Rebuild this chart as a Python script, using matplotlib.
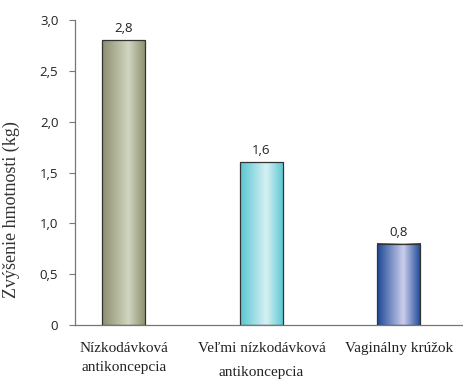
import numpy as np
import matplotlib.pyplot as plt
from matplotlib.colors import LinearSegmentedColormap

# Weight gain per contraception type
categories = ['Nízkodávková\nantikoncepcia', 'Veľmi nízkodávková\nantikoncepcia', 'Vaginálny krúžok']
values = [2.8, 1.6, 0.8]
value_labels = ['2,8', '1,6', '0,8']
ytick_vals = [0, 0.5, 1.0, 1.5, 2.0, 2.5, 3.0]
ytick_labels = ['0', '0,5', '1,0', '1,5', '2,0', '2,5', '3,0']

# (edge, highlight) colours for the cylinder-like shading
shades = [('#8d8e6e', '#cfd5bf'), ('#58c6d3', '#d6f0f2'), ('#1d4797', '#c9cdeb')]

fig = plt.figure(figsize=(4.64, 3.79), dpi=100)
ax = fig.add_axes([0.1616, 0.1425, 0.834, 0.8045])

x = np.arange(len(values))
width = 0.313
grad = np.concatenate([np.linspace(0, 1, 60), np.linspace(1, 0, 40)])[None, :]

for xi, v, (dark, light), lab in zip(x, values, shades, value_labels):
    cmap = LinearSegmentedColormap.from_list('shade', [dark, light])
    ax.imshow(grad, cmap=cmap, extent=(xi - width / 2, xi + width / 2, 0, v),
              aspect='auto', zorder=2, interpolation='bicubic')
    ax.bar(xi, v, width=width, facecolor='none', edgecolor='#333333', linewidth=0.9, zorder=3)
    ax.text(xi, v + 0.05, lab, ha='center', va='bottom', fontsize=9.5,
            family='Open Sans', color='#222222')

ax.set_xlim(-0.356, 2.458)
ax.set_ylim(0, 3.0)
ax.set_yticks(ytick_vals)
ax.set_yticklabels(ytick_labels, family='Open Sans', fontsize=9.5, color='#222222')
ax.set_xticks(x)
ax.set_xticklabels(categories, family='Liberation Serif', fontsize=11, color='#222222',
                   linespacing=1.65)
ax.get_xticklabels()[1].set_linespacing(2.1)
ax.tick_params(axis='x', length=0, pad=12)
ax.tick_params(axis='y', length=4, width=0.8, color='#777777', pad=8)
ax.set_ylabel('Zvýšenie hmotnosti (kg)', family='Liberation Serif', fontsize=13,
              color='#333333')
ax.yaxis.set_label_coords(-0.142, 0.377)

for side in ['top', 'right']:
    ax.spines[side].set_visible(False)
for side in ['left', 'bottom']:
    ax.spines[side].set_color('#777777')
    ax.spines[side].set_linewidth(0.9)

fig.savefig('out.png', dpi=100)
